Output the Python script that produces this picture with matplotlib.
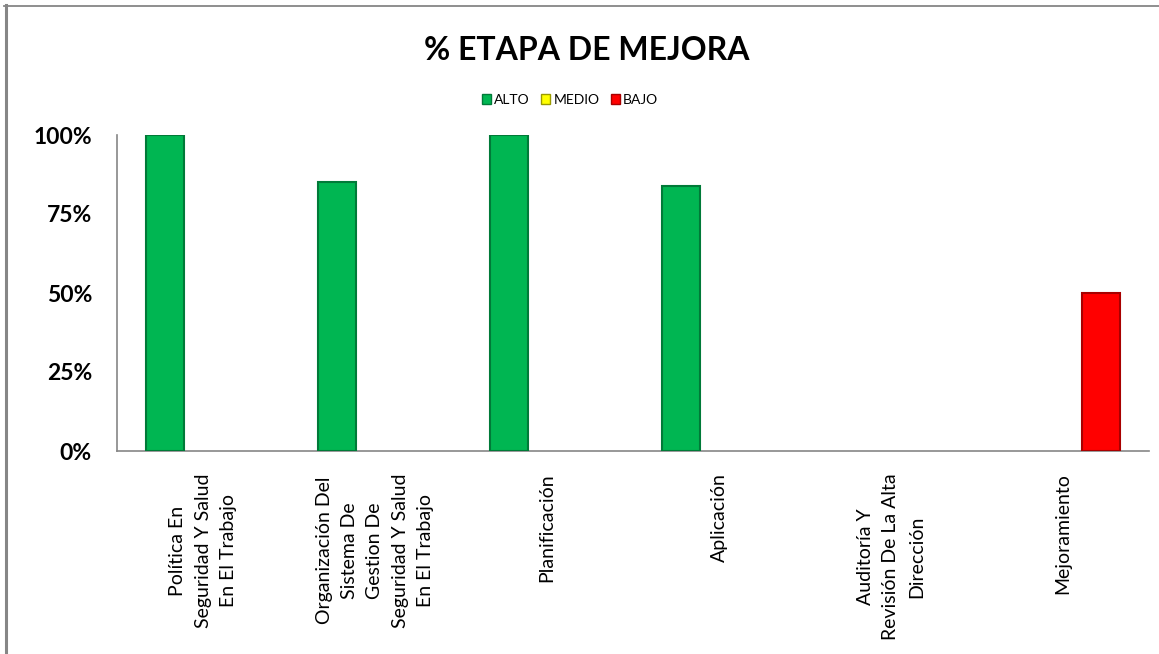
import matplotlib
matplotlib.use("Agg")
import matplotlib.pyplot as plt
import numpy as np
from matplotlib.lines import Line2D
from matplotlib.ticker import FuncFormatter

categories = [
    "Política En\nSeguridad Y Salud\nEn El Trabajo",
    "Organización Del\nSistema De\nGestion De\nSeguridad Y Salud\nEn El Trabajo",
    "Planificación",
    "Aplicación",
    "Auditoría Y\nRevisión De La Alta\nDirección",
    "Mejoramiento",
]
series_names = ["ALTO", "MEDIO", "BAJO"]
alto = [1.00, 0.85, 1.00, 0.84, 0.0, 0.0]
medio = [0.0, 0.0, 0.0, 0.0, 0.0, 0.0]
bajo = [0.0, 0.0, 0.0, 0.0, 0.0, 0.50]
yticks = [0, 0.25, 0.5, 0.75, 1.0]

face = ["#00B652", "#FFFF00", "#FF0000"]
edge = ["#007A38", "#9A9A00", "#A80000"]

plt.rcParams["font.family"] = ["Lato", "DejaVu Sans"]

fig = plt.figure(figsize=(11.59, 6.54), dpi=100)
ax = fig.add_axes([117 / 1159, 1 - 451 / 654, (1149 - 117) / 1159, (451 - 135) / 654])

x = np.arange(len(categories))
w = 0.22
for k, vals in enumerate([alto, medio, bajo]):
    lw = [1.5 if v > 0 else 0 for v in vals]
    ax.bar(x + (k - 1) * w, vals, width=w, color=face[k], edgecolor=edge[k],
           linewidth=lw, label=series_names[k], zorder=3)

ax.set_xlim(-0.5, len(categories) - 0.5)
ax.set_ylim(0, 1)
ax.set_yticks(yticks)
ax.yaxis.set_major_formatter(FuncFormatter(lambda v, p: f"{v*100:.0f}%"))
for s in ["top", "right"]:
    ax.spines[s].set_visible(False)
for s in ["left", "bottom"]:
    ax.spines[s].set_color("#868686")
    ax.spines[s].set_linewidth(1.2)
ax.tick_params(axis="y", length=0, pad=18, labelsize=16.5)
for t in ax.get_yticklabels():
    t.set_fontweight("bold")
ax.set_xticks(x)
ax.set_xticklabels(categories, rotation=90, ha="center", va="top",
                   multialignment="center", fontsize=14, linespacing=1.6)
ax.tick_params(axis="x", length=0, pad=16)

fig.text(587 / 1159, 1 - 50 / 654, "% ETAPA DE MEJORA", ha="center", va="center",
         fontsize=23, fontweight="bold")

handles = [plt.Rectangle((0, 0), 1, 1, facecolor=face[k], edgecolor=edge[k], linewidth=1)
           for k in range(3)]
fig.legend(handles, series_names, loc="center", bbox_to_anchor=(570 / 1159, 1 - 100 / 654),
           ncol=3, frameon=False, fontsize=10, handlelength=0.65, handleheight=0.65,
           handletextpad=0.25, columnspacing=0.8)

fig.add_artist(Line2D([5.5 / 1159, 5.5 / 1159], [0, 1 - 5 / 654], color="#868686", linewidth=2.2))
fig.add_artist(Line2D([4 / 1159, 1], [1 - 6 / 654, 1 - 6 / 654], color="#868686", linewidth=1.3))

fig.savefig("out.png", dpi=100)
